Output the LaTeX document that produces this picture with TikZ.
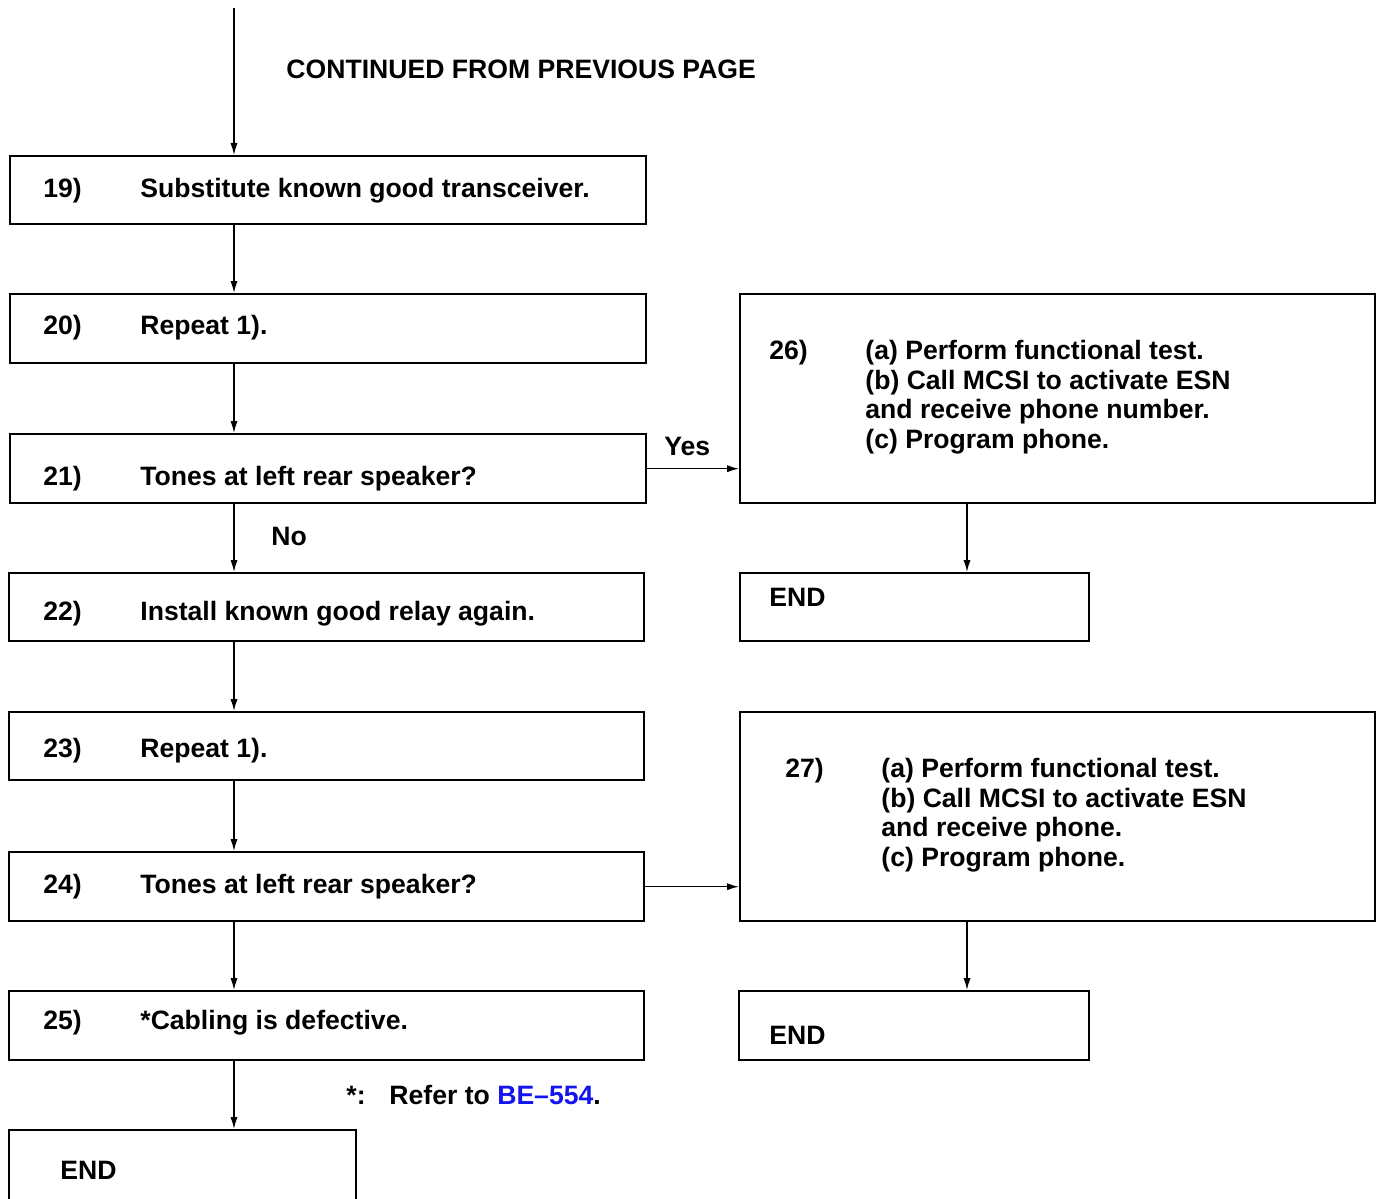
\documentclass[tikz,border=0pt]{standalone}
\usepackage{fontspec}
\setmainfont{Liberation Sans}
\usetikzlibrary{arrows.meta}
\definecolor{refblue}{HTML}{1414F0}
\tikzset{
  stepbox/.style={draw, line width=1.2pt, anchor=north west, inner sep=0pt},
  flow/.style={line width=0.7pt, -{Latex[length=6pt,width=3.6pt]}},
  lbl/.style={anchor=base west, inner sep=0pt, font=\fontsize{13.3}{14.85}\selectfont\bfseries},
}

\begin{document}
\begin{tikzpicture}[x=0.5pt, y=-0.5pt]
        \useasboundingbox (0,0) rectangle (1379,1198);
        % Left column
        \node[stepbox, minimum width=318pt, minimum height=34pt] (s19) at (9,155) {};
        \node[stepbox, minimum width=318pt, minimum height=34.5pt] (s20) at (9,293) {};
        \node[stepbox, minimum width=318pt, minimum height=34.5pt] (s21) at (9,433) {};
        \node[stepbox, minimum width=317.5pt, minimum height=34pt] (s22) at (8,572) {};
        \node[stepbox, minimum width=317.5pt, minimum height=34pt] (s23) at (8,711) {};
        \node[stepbox, minimum width=317.5pt, minimum height=34.5pt] (s24) at (8,851) {};
        \node[stepbox, minimum width=317.5pt, minimum height=34.5pt] (s25) at (8,990) {};
        \node[stepbox, minimum width=173.5pt, minimum height=42pt] (end1) at (8,1129) {};
        % Right column
        \node[stepbox, minimum width=317.5pt, minimum height=104.5pt] (s26) at (739,293) {};
        \node[stepbox, minimum width=174.5pt, minimum height=34pt] (end2) at (739,572) {};
        \node[stepbox, minimum width=317.5pt, minimum height=104.5pt] (s27) at (739,711) {};
        \node[stepbox, minimum width=175pt, minimum height=34.5pt] (end3) at (738,990) {};
        % Texts
        \node[lbl] (cont) at (286,78.5) {CONTINUED FROM PREVIOUS PAGE};
        \node[lbl] (n19) at (43,197.5) {19)};
        \node[lbl] (t19) at (140,197.5) {Substitute known good transceiver.};
        \node[lbl] (n20) at (43,334.5) {20)};
        \node[lbl] (t20) at (140,334.5) {Repeat 1).};
        \node[lbl] (n21) at (43,485.5) {21)};
        \node[lbl] (t21) at (140,485.5) {Tones at left rear speaker?};
        \node[lbl] (n22) at (43,620.5) {22)};
        \node[lbl] (t22) at (140,620.5) {Install known good relay again.};
        \node[lbl] (n23) at (43,757.5) {23)};
        \node[lbl] (t23) at (140,757.5) {Repeat 1).};
        \node[lbl] (n24) at (43,893.5) {24)};
        \node[lbl] (t24) at (140,893.5) {Tones at left rear speaker?};
        \node[lbl] (n25) at (43,1029.5) {25)};
        \node[lbl] (t25) at (140,1029.5) {*Cabling is defective.};
        \node[lbl] (e1) at (60,1179.5) {END};
        \node[lbl] (no) at (271,545.5) {No};
        \node[lbl] (yes) at (664,455.5) {Yes};
        \node[lbl] (star) at (346,1104.5) {*:};
        \node[lbl] (refer) at (389,1104.5) {Refer to \textcolor{refblue}{BE–554}.};
        \node[lbl] (n26) at (769,359.5) {26)};
        \node[lbl] (t26) at (865,359.5) {\begin{tabular}[t]{@{}l@{}}(a) Perform functional test.\\(b) Call MCSI to activate ESN\\and receive phone number.\\(c) Program phone.\end{tabular}};
        \node[lbl] (e2) at (769,606.5) {END};
        \node[lbl] (n27) at (785,777.5) {27)};
        \node[lbl] (t27) at (881,777.5) {\begin{tabular}[t]{@{}l@{}}(a) Perform functional test.\\(b) Call MCSI to activate ESN\\and receive phone.\\(c) Program phone.\end{tabular}};
        \node[lbl] (e3) at (769,1044.5) {END};
        % Connectors
        \coordinate (top) at (234,8);
        \coordinate (rtop) at (967,293);
        \draw[flow] (top) -- (top |- s19.north);
        \draw[flow] (s19.south -| top) -- (s20.north -| top);
        \draw[flow] (s20.south -| top) -- (s21.north -| top);
        \draw[flow] (s21.south -| top) -- (s22.north -| top);
        \draw[flow] (s22.south -| top) -- (s23.north -| top);
        \draw[flow] (s23.south -| top) -- (s24.north -| top);
        \draw[flow] (s24.south -| top) -- (s25.north -| top);
        \draw[flow] (s25.south -| top) -- (end1.north -| top);
        \draw[flow] (s21.east) -- (s26.west |- s21.east);
        \draw[flow] (s24.east) -- (s27.west |- s24.east);
        \draw[flow] (s26.south -| rtop) -- (end2.north -| rtop);
        \draw[flow] (s27.south -| rtop) -- (end3.north -| rtop);
      \end{tikzpicture}
\end{document}
